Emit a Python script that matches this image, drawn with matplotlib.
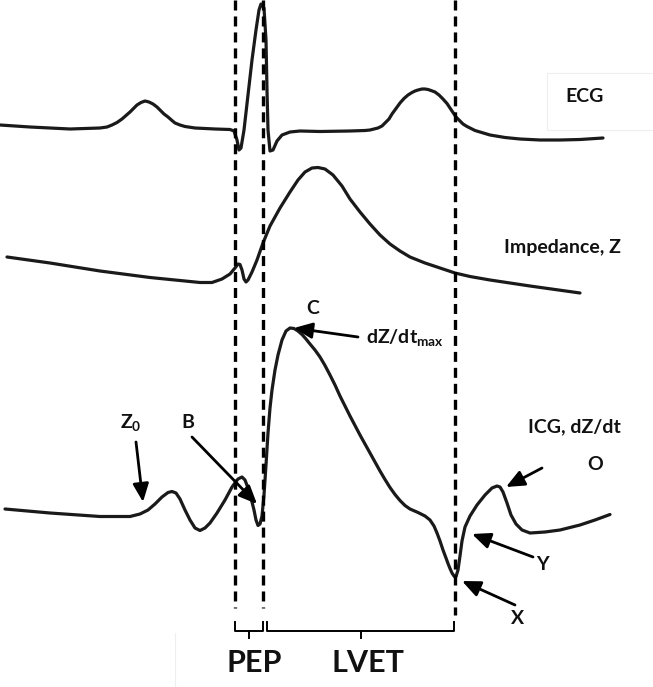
import matplotlib.pyplot as plt

plt.rcParams['font.family'] = ['Lato', 'DejaVu Sans']
plt.rcParams['mathtext.fontset'] = 'custom'
plt.rcParams['mathtext.rm'] = 'Lato:bold'
plt.rcParams['lines.scale_dashes'] = False

# waveforms (x, y in image pixels, y down)
ecg_x = [0, 30, 70, 100, 107, 112, 117, 122, 126, 130, 134, 137, 141, 145, 149, 153, 157, 160,
         164, 168, 172, 175, 180, 185, 195, 215, 230,
         234, 237, 239, 241, 244, 248, 252, 256, 259, 261, 264, 266, 267, 268, 270, 273, 277,
         282, 290, 300, 320, 350, 365, 370, 374, 378, 382, 385, 389, 392, 396, 400, 404, 408,
         412, 415, 418, 422, 425, 428, 431, 435, 439, 443, 447, 450, 453, 456, 460, 463, 467,
         470, 475, 480, 490, 505, 520, 540, 560, 580, 603]
ecg_y = [125, 127, 129, 128, 127, 125, 122.5, 119, 115.5, 112, 108, 105, 102.5, 101, 102, 104,
         107, 110, 114, 117, 120.5, 123, 125, 126.5, 128, 129, 129.5,
         131, 140, 150, 148, 130, 95, 60, 30, 10, 4, 8, 40, 90, 130, 151, 150, 141,
         135, 132, 131, 131.5, 131, 130.5, 130, 129, 128, 126, 123, 119, 114, 108.5, 103, 98.5,
         95, 92.5, 91, 90, 89, 89, 89.5, 90.5, 92, 95, 99, 103.5, 108, 112.5, 117, 121, 124,
         126.5, 128, 130.5, 132, 135, 137.5, 139, 140, 140, 139.5, 138]

imp_x = [7, 50, 100, 150, 200, 212, 222, 230, 235, 238, 240, 242, 244, 246, 248, 252, 257, 263,
         270, 280, 290, 298, 305, 312, 318, 325, 333, 342, 350, 360, 370, 380, 390, 400, 410,
         425, 440, 455, 470, 490, 510, 530, 555, 580]
imp_y = [257, 263, 271, 277.5, 282.5, 282.5, 279, 274, 268, 264, 264.5, 270, 279, 282, 280, 272,
         260, 243, 226, 208, 192, 180, 172, 168, 167.5, 169, 175, 186, 199, 212, 224, 235, 244,
         251, 257, 263, 268, 273, 276.5, 280, 283, 286, 289.5, 293]

icg_x = [5, 50, 100, 130, 140, 148, 155, 162, 168, 172, 176, 180, 185, 190, 195, 200, 205, 210,
         217, 225, 232, 238, 242, 245, 248, 251, 254, 256, 258, 260, 262, 264, 266, 268, 270,
         272, 275, 278, 282, 286, 290, 294, 298, 302, 306, 310, 315, 320, 325, 330, 335, 340,
         345, 350, 355, 360, 365, 370, 375, 380, 385, 390, 395, 400, 405, 410, 418, 425, 430,
         434, 437, 440, 443, 446, 448, 450, 452, 454, 455, 456, 458, 460, 462, 465, 470, 477,
         485, 492, 497, 500, 503, 507, 511, 516, 522, 530, 545, 560, 580, 595, 610]
icg_y = [509, 513, 516.5, 516.5, 514, 510, 504, 497, 492.5, 491.5, 493, 499, 510, 520, 528, 530.5,
         528, 523, 513, 500, 487, 479, 477, 480, 488, 498, 510, 520, 525.5, 524, 516, 495, 465,
         433, 408, 390, 370, 355, 340, 331, 328, 328.5, 331, 334.5, 339, 344, 350, 357, 365.5,
         375, 385, 396, 406, 416, 425.5, 435, 444, 453, 462, 471, 479.5, 487.5, 494.5, 500.5,
         505.5, 509, 512.5, 516, 520, 526, 533, 541, 550, 558, 563.5, 568.5, 573, 576, 577,
         576.5, 570, 556, 541, 527, 516, 505, 495, 488, 486, 487, 492, 503, 515, 524, 530, 533,
         532, 530, 525, 520, 514.5]

marker_x = [235, 263, 455]

curve_labels = ['ECG', 'Impedance, Z', 'ICG, dZ/dt']
curve_label_pos = [(585, 97), (562, 248), (574, 427)]

point_labels = ['Z$_0$', 'B', 'C', 'O', 'Y', 'X']
point_label_pos = [(131, 423), (188, 422), (313, 308), (595, 465), (542, 565), (518, 618)]
# arrows: tail -> tip
arrow_tails = [(136, 442), (192, 437), (358, 337), (542, 468), (533, 557), (515, 605)]
arrow_tips = [(143, 502), (257, 504), (294, 328), (506, 487), (472, 534), (462, 581)]

interval_names = ['PEP', 'LVET']
interval_ends = [(235, 263), (267, 454)]
interval_label_x = [254, 368]

fig = plt.figure(figsize=(6.53, 6.87), dpi=100)
ax = fig.add_axes([0, 0, 1, 1])
ax.set_xlim(0, 653)
ax.set_ylim(687, 0)
ax.axis('off')

# faint leftovers of the original layout
ax.add_patch(plt.Rectangle((547, 73), 110, 57, fill=False, ec='#eeeeee', lw=0.8))
ax.plot([175, 175], [633, 687], color='#eeeeee', lw=0.8)

for xs, ys in [(ecg_x, ecg_y), (imp_x, imp_y), (icg_x, icg_y)]:
    ax.plot(xs, ys, color='#1a1a1a', lw=2.3, solid_joinstyle='round', solid_capstyle='round')

for i, x in enumerate(marker_x):
    bottom = 615 if i == 2 else 608
    ax.plot([x, x], [0, bottom], color='k', lw=2.4, dashes=(7.2, 4.3))

for (x0, x1), name, lx in zip(interval_ends, interval_names, interval_label_x):
    mid = (x0 + x1) / 2
    ax.plot([x0, x0, x1, x1], [622, 631, 631, 622], color='k', lw=1.4)
    ax.plot([mid, mid], [631, 638], color='k', lw=1.4)
    ax.text(lx, 663, name, fontsize=22, fontweight='bold', color='#111111',
            ha='center', va='center')

for lab, (x, y) in zip(curve_labels, curve_label_pos):
    ax.text(x, y, lab, fontsize=14, fontweight='bold', color='#111111', ha='center', va='center')

for lab, (x, y) in zip(point_labels, point_label_pos):
    ax.text(x, y, lab, fontsize=14, fontweight='bold', color='#111111', ha='center', va='center')

ax.text(366, 338, 'dZ/dt$_{\\mathrm{max}}$', fontsize=14, fontweight='bold', color='#111111',
        ha='left', va='center')

for tail, tip in zip(arrow_tails, arrow_tips):
    ax.annotate('', xy=tip, xytext=tail,
                arrowprops=dict(arrowstyle='-|>,head_length=1.1,head_width=0.48',
                                color='k', lw=2, shrinkA=0, shrinkB=0, mutation_scale=10))

fig.savefig('out.png', dpi=100)
